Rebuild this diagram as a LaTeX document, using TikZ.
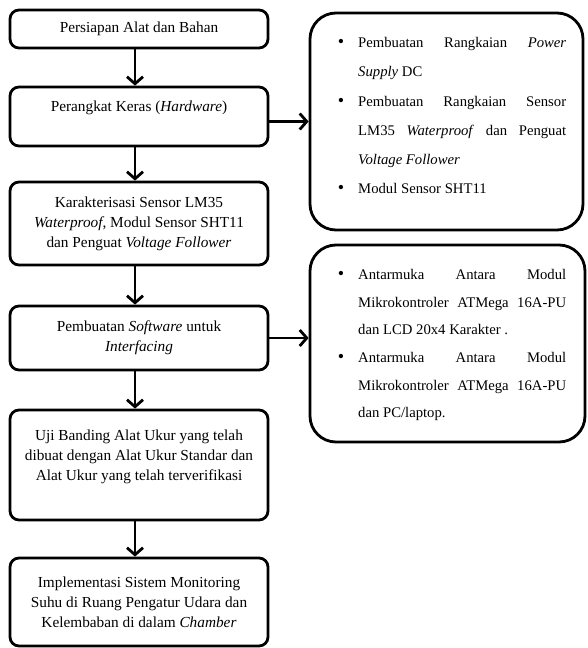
\documentclass[tikz,border=0pt]{standalone}
\usepackage{fontspec}
\setmainfont{Liberation Serif}
\usetikzlibrary{arrows.meta}
\tikzset{
  leftbox/.style={draw, line width=2.8pt, rounded corners=9pt, minimum width=258pt, align=center, inner sep=0pt,
    font=\fontsize{15.3}{20}\selectfont},
  rightbox/.style={draw, line width=2.8pt, rounded corners=26pt, inner sep=0pt},
  listtext/.style={anchor=north west, inner sep=0pt, align=left},
  flow/.style={line width=2.8pt, -{Straight Barb[length=7pt,width=16pt]}}
}
\newcommand{\jl}[1]{\makebox[208pt][s]{#1}}
\newcommand{\bul}{\llap{{\fontsize{18}{18}\selectfont\textbullet}\hspace{14pt}}}
\begin{document}
\begin{tikzpicture}[x=1pt,y=-1pt]
\useasboundingbox (0,0) rectangle (587,648);
\node[leftbox, minimum height=38pt] (b1) at (139,29) {Persiapan Alat dan Bahan};
\node[leftbox, minimum height=59pt] (b2) at (139,116.5) {Perangkat Keras (\textit{Hardware})\\\mbox{}};
\node[leftbox, minimum height=83pt] (b3) at (139,223.5) {Karakterisasi Sensor LM35\\\textit{Waterproof}, Modul Sensor SHT11\\dan Penguat \textit{Voltage Follower}};
\node[leftbox, minimum height=64pt] (b4) at (139,338) {Pembuatan \textit{Software} untuk\\\textit{Interfacing}};
\node[leftbox, minimum height=110pt] (b5) at (139,465) {Uji Banding Alat Ukur yang telah\\dibuat dengan Alat Ukur Standar dan\\Alat Ukur yang telah terverifikasi\\\mbox{}};
\node[leftbox, minimum height=88pt] (b6) at (139,602) {Implementasi Sistem Monitoring\\Suhu di Ruang Pengatur Udara dan\\Kelembaban di dalam \textit{Chamber}};

\node[rightbox, minimum width=273pt, minimum height=217pt] (ra) at (446.5,121.5) {};
\node[rightbox, minimum width=275pt, minimum height=197pt] (rb) at (447.5,343.5) {};

\node[listtext, font=\fontsize{14.7}{29.3}\selectfont] (ta) at (358,37) {%
\bul\jl{Pembuatan Rangkaian \textit{Power}}\\
\textit{Supply} DC\\
\bul\jl{Pembuatan Rangkaian Sensor}\\
\jl{LM35 \textit{Waterproof} dan Penguat}\\
\textit{Voltage Follower}\\
\bul Modul Sensor SHT11};

\node[listtext, font=\fontsize{14.7}{27.7}\selectfont] (tb) at (358,269) {%
\bul\jl{Antarmuka Antara Modul}\\
\jl{Mikrokontroler ATMega 16A-PU}\\
dan LCD 20x4 Karakter .\\
\bul\jl{Antarmuka Antara Modul}\\
\jl{Mikrokontroler ATMega 16A-PU}\\
dan PC/laptop.};

\draw[flow] ([xshift=-4pt]b1.south) -- ([xshift=-4pt]b2.north);
\draw[flow] ([xshift=-4pt]b2.south) -- ([xshift=-4pt]b3.north);
\draw[flow] ([xshift=-4pt]b3.south) -- ([xshift=-4pt]b4.north);
\draw[flow] ([xshift=-4pt]b4.south) -- ([xshift=-4pt]b5.north);
\draw[flow] ([xshift=-4pt]b5.south) -- ([xshift=-4pt]b6.north);
\draw[flow] (b2.east |- ra.west) -- (ra.west);
\draw[flow] (b4.east) -- (b4.east -| rb.west);
\end{tikzpicture}
\end{document}
